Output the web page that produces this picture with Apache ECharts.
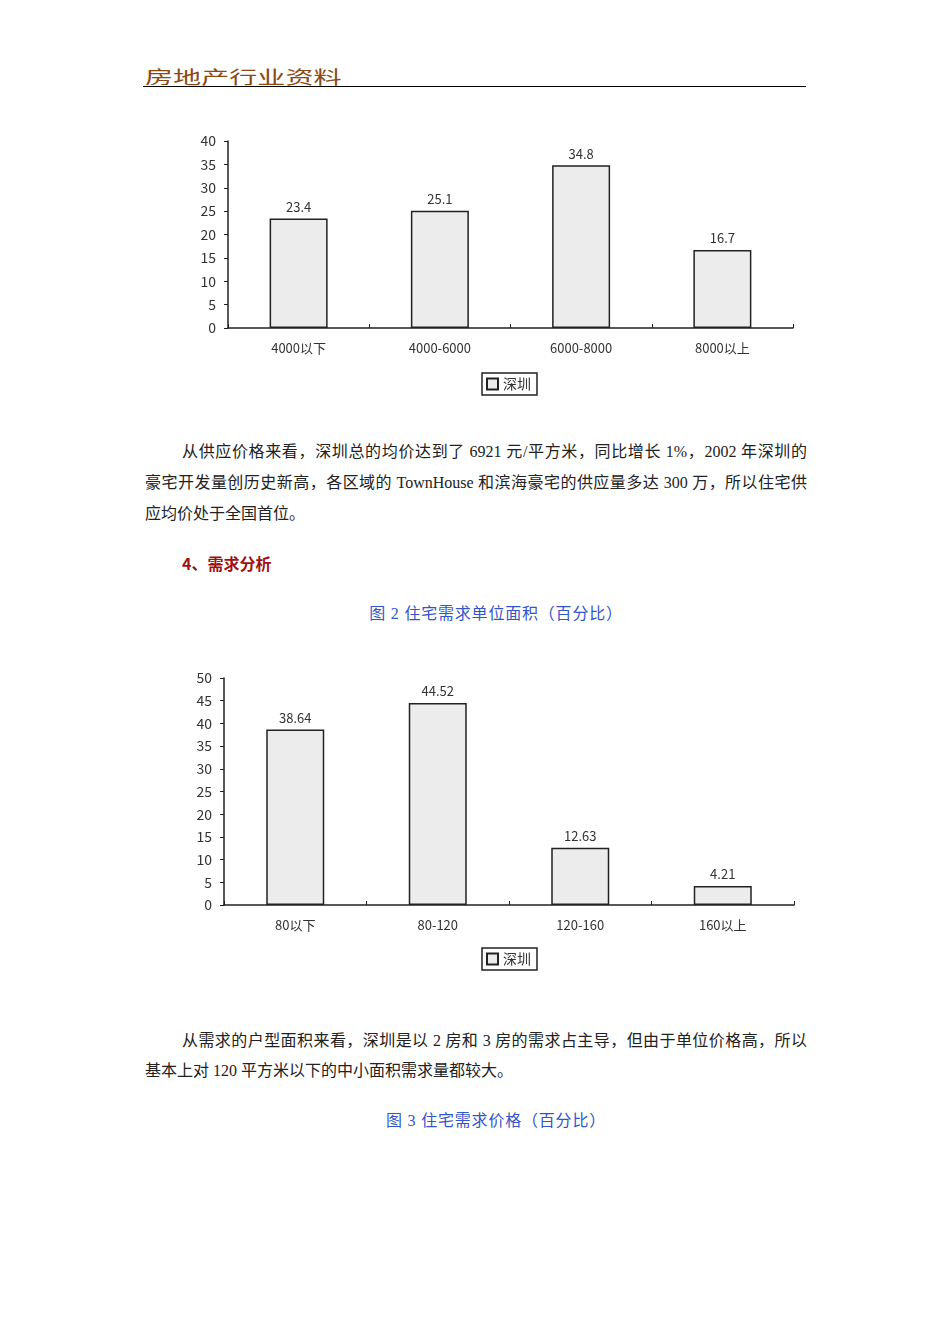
<!DOCTYPE html>
<html>
<head>
<meta charset="utf-8">
<script src="https://cdn.jsdelivr.net/npm/echarts@6/dist/echarts.min.js"></script>
<style>
  body { margin: 0; background: #fff; width: 950px; height: 1344px; position: relative; overflow: hidden; }
  .t { position: absolute; font-family: "Liberation Serif", "Noto Sans CJK SC", serif; font-size: 16px; color: #222; }
  .ln { left: 145px; width: 662px; height: 20px; line-height: 20px; text-align: justify; text-align-last: justify; white-space: nowrap; }
  .cap { color: #3355cc; width: 950px; left: 21px; text-align: center; letter-spacing: 0.8px; }
  #head { left: 145px; top: 66px; line-height: 20px; font-family: "Noto Sans CJK SC", sans-serif; font-size: 18px; color: #8a4a14;
          transform: scaleX(1.56); transform-origin: left top; white-space: nowrap; }
  #rule { position: absolute; left: 143px; top: 86px; width: 663px; height: 1px; background: #000; }
  .chart { position: absolute; left: 140px; width: 680px; }
</style>
</head>
<body>
<div class="t" id="head">房地产行业资料</div>
<div id="rule"></div>

<div class="chart" id="c1" style="top:120px;height:290px"></div>

<div class="t ln" style="top:442px;left:182px;width:625px">从供应价格来看，深圳总的均价达到了 6921 元/平方米，同比增长 1%，2002 年深圳的</div>
<div class="t ln" style="top:473px">豪宅开发量创历史新高，各区域的 TownHouse 和滨海豪宅的供应量多达 300 万，所以住宅供</div>
<div class="t" style="top:504px;left:145px;line-height:20px">应均价处于全国首位。</div>
<div class="t" style="left:182px;top:553px;line-height:20px;font-weight:bold;color:#a01010;font-family:'Noto Sans CJK SC',sans-serif;">4、需求分析</div>
<div class="t cap" style="top:604px;line-height:20px">图 2 住宅需求单位面积（百分比）</div>

<div class="chart" id="c2" style="top:660px;height:330px"></div>

<div class="t ln" style="top:1031px;left:182px;width:625px">从需求的户型面积来看，深圳是以 2 房和 3 房的需求占主导，但由于单位价格高，所以</div>
<div class="t" style="top:1061px;left:145px;line-height:20px">基本上对 120 平方米以下的中小面积需求量都较大。</div>
<div class="t cap" style="top:1111px;line-height:20px">图 3 住宅需求价格（百分比）</div>

<script>
// chart 1: supply price
var priceCats = ['4000以下', '4000-6000', '6000-8000', '8000以上'];
var priceVals = [23.4, 25.1, 34.8, 16.7];
// chart 2: demand unit area
var areaCats = ['80以下', '80-120', '120-160', '160以上'];
var areaVals = [38.64, 44.52, 12.63, 4.21];
var seriesName = '深圳';

var labelFont = '"Noto Sans CJK SC", "DejaVu Sans", sans-serif';

function makeOption(cats, vals, yMax, grid, legendTop) {
	return {
		animation: false,
		grid: grid,
		legend: {
			top: legendTop,
			left: 342,
			data: [seriesName],
			icon: 'rect',
			itemWidth: 11,
			itemHeight: 11,
			itemGap: 4,
			padding: [4, 6, 4, 4],
			borderColor: '#222',
			borderWidth: 1.5,
			textStyle: { fontSize: 14, color: '#333', fontFamily: labelFont }
		},
		xAxis: {
			type: 'category',
			data: cats,
			axisLine: { lineStyle: { color: '#222', width: 1.5 } },
			axisTick: { show: true, inside: true, length: 4, lineStyle: { color: '#222' } },
			axisLabel: { color: '#333', fontSize: 13, margin: 14, fontFamily: labelFont }
		},
		yAxis: {
			type: 'value',
			min: 0,
			max: yMax,
			interval: 5,
			splitLine: { show: false },
			axisLine: { show: true, lineStyle: { color: '#222', width: 1.5 } },
			axisTick: { show: true, length: 4, lineStyle: { color: '#222' } },
			axisLabel: { color: '#333', fontSize: 14, margin: 12, fontFamily: labelFont }
		},
		series: [{
			name: seriesName,
			type: 'bar',
			data: vals,
			barWidth: 58,
			itemStyle: { color: '#ececec', borderColor: '#222', borderWidth: 1.5 },
			label: { show: true, position: 'top', distance: 5, color: '#333', fontSize: 13, fontFamily: labelFont }
		}]
	};
}

var c1 = echarts.init(document.getElementById('c1'));
c1.setOption(makeOption(priceCats, priceVals, 40, { left: 88, right: 27, top: 21, bottom: 82 }, 253));

var c2 = echarts.init(document.getElementById('c2'));
c2.setOption(makeOption(areaCats, areaVals, 50, { left: 84, right: 26, top: 18, bottom: 85 }, 288));
</script>
</body>
</html>
